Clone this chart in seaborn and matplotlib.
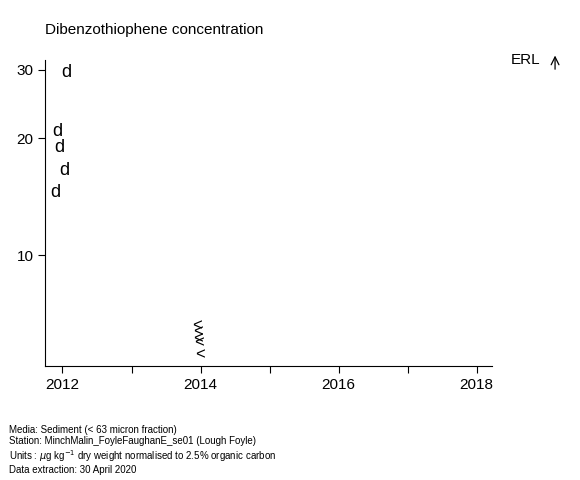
import matplotlib.pyplot as plt
import seaborn as sns
from matplotlib.ticker import FixedLocator, NullLocator

sns.set_style("ticks")
plt.rcParams["font.family"] = ["Liberation Sans", "DejaVu Sans"]
plt.rcParams["text.color"] = "black"
plt.rcParams["xtick.color"] = "black"
plt.rcParams["ytick.color"] = "black"
plt.rcParams["axes.edgecolor"] = "black"

# detected values (plotted as "d")
d_years = [2012.06, 2011.93, 2011.96, 2012.03, 2011.90]
d_values = [29.5, 20.8, 19.0, 16.5, 14.5]
# below detection limit (plotted as "<")
lt_years = [2013.95, 2013.97, 2013.96, 2013.98, 2013.99]
lt_values = [6.6, 6.35, 6.1, 5.95, 5.55]

fig = plt.figure(figsize=(5.8, 4.8), dpi=100)
ax = fig.add_axes([0.078, 0.2375, 0.77, 0.6375])
ax.set_yscale("log")
ax.set_xlim(2011.75, 2018.22)
ax.set_ylim(5.2, 31.8)

for x, y in zip(d_years, d_values):
    ax.text(x, y, "d", ha="center", va="center", fontsize=13)
for x, y in zip(lt_years, lt_values):
    ax.text(x, y, "<", ha="center", va="center", fontsize=12)

ax.yaxis.set_major_locator(FixedLocator([10, 20, 30]))
ax.yaxis.set_minor_locator(NullLocator())
ax.set_yticklabels(["10", "20", "30"])
ax.xaxis.set_major_locator(FixedLocator([2012, 2014, 2016, 2018]))
ax.xaxis.set_minor_locator(FixedLocator([2013, 2015, 2017]))
ax.tick_params(axis="both", labelsize=11, length=5, width=0.8)
ax.tick_params(axis="x", which="minor", length=5, width=0.8)
sns.despine(ax=ax)
for s in ["left", "bottom"]:
    ax.spines[s].set_linewidth(0.8)

fig.text(0.078, 0.93, "Dibenzothiophene concentration", fontsize=11)
fig.text(0.88, 0.875, "ERL", fontsize=11, va="center")
fig.add_artist(plt.matplotlib.patches.FancyArrowPatch(
    (0.957, 0.85), (0.957, 0.89), arrowstyle="->", mutation_scale=14,
    transform=fig.transFigure, color="black", lw=0.9))

foot = ("Media: Sediment (< 63 micron fraction)\n"
        "Station: MinchMalin_FoyleFaughanE_se01 (Lough Foyle)\n"
        "Units : $\\mu$g kg$^{-1}$ dry weight normalised to 2.5% organic carbon\n"
        "Data extraction: 30 April 2020")
fig.text(0.015, 0.015, foot, fontsize=7, linespacing=1.15)

fig.savefig("out.png", dpi=100)
